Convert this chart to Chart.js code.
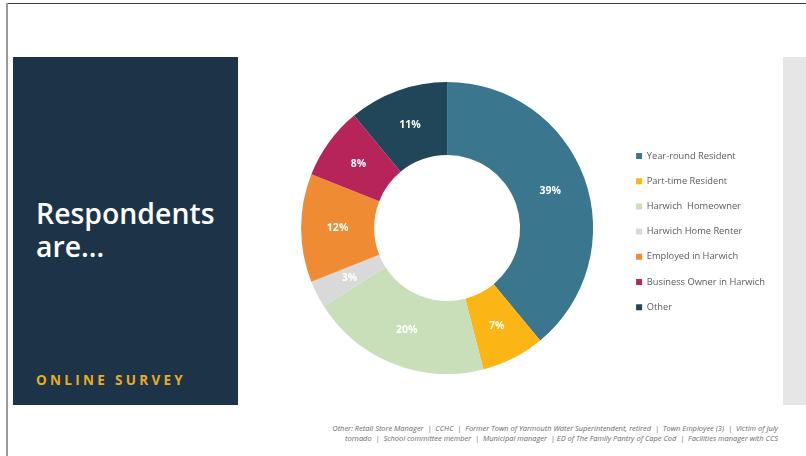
<!DOCTYPE html>
<html>
<head>
<meta charset="utf-8">
<script src="https://cdn.jsdelivr.net/npm/chart.js@4.4.1/dist/chart.umd.min.js"></script>
<style>
  html, body { margin:0; padding:0; background:#fff; }
  body { width:806px; height:456px; position:relative; overflow:hidden; font-family:"Open Sans", sans-serif; }
  .topline { position:absolute; left:6px; top:3px; width:800px; height:1px; background:#3a3a3a; }
  .leftline { position:absolute; left:6px; top:3px; width:2px; height:453px; background:#9a9a9a; }
  .panel { position:absolute; left:13px; top:57px; width:225px; height:348px; background:#1c3348; }
  .title { position:absolute; left:23px; top:140px; color:#fff; font-size:28.4px; font-weight:600; line-height:33px; }
  .survey { position:absolute; left:23px; top:314px; color:#e8ad1e; font-size:13.5px; font-weight:bold; letter-spacing:3.3px; }
  .gray { position:absolute; left:783px; top:57px; width:23px; height:348px; background:#e6e6e6; }
  .note { position:absolute; right:28px; top:424px; width:480px; text-align:right; font-style:italic; font-size:7.45px; line-height:9.5px; color:#6a6a6a; }
  #wrap { position:absolute; left:274px; top:82px; width:501px; height:292px; }
</style>
</head>
<body>
<div class="topline"></div>
<div class="leftline"></div>
<div class="panel">
  <div class="title">Respondents<br>are…</div>
  <div class="survey">ONLINE SURVEY</div>
</div>
<div class="gray"></div>
<div id="wrap"><canvas id="c"></canvas></div>
<div class="note">Other: Retail Store Manager &nbsp;| &nbsp;CCHC &nbsp;| &nbsp;Former Town of Yarmouth Water Superintendent, retired &nbsp;| &nbsp;Town Employee (3) &nbsp;| &nbsp;Victim of July<br>tornado &nbsp;| &nbsp;School committee member &nbsp;| &nbsp;Municipal manager &nbsp;| ED of The Family Pantry of Cape Cod &nbsp;| &nbsp;Facilities manager with CCS</div>
<script>
const categories = ["Year-round Resident", "Part-time Resident", "Harwich  Homeowner", "Harwich Home Renter", "Employed in Harwich", "Business Owner in Harwich", "Other"];
const percentages = [39, 7, 20, 3, 12, 8, 11];
const sliceColors = ["#3b768f", "#fbb616", "#c9dfb9", "#d9d9d9", "#ef8b33", "#b6245a", "#21465a"];

const labelPlugin = {
  id: 'sliceLabels',
  afterDatasetsDraw(chart) {
    const ctx = chart.ctx;
    const meta = chart.getDatasetMeta(0);
    ctx.save();
    ctx.font = 'bold 10.5px "Open Sans", sans-serif';
    ctx.fillStyle = '#ffffff';
    ctx.textAlign = 'center';
    ctx.textBaseline = 'middle';
    meta.data.forEach((arc, i) => {
      const p = arc.tooltipPosition();
      ctx.fillText(percentages[i] + '%', p.x, p.y);
    });
    ctx.restore();
  }
};

new Chart(document.getElementById('c'), {
  type: 'doughnut',
  data: {
    labels: categories,
    datasets: [{
      data: percentages,
      backgroundColor: sliceColors,
      borderWidth: 0
    }]
  },
  options: {
    responsive: true,
    maintainAspectRatio: false,
    animation: false,
    cutout: '50%',
    layout: { padding: 0 },
    plugins: {
      tooltip: { enabled: false },
      legend: {
        position: 'right',
        align: 'center',
        title: { display: true, text: ' ', font: { size: 1 }, padding: { top: 0, bottom: 6 } },
        labels: {
          boxWidth: 6,
          boxHeight: 6,
          padding: 15.9,
          color: '#595959',
          font: { family: '"Open Sans", sans-serif', size: 9.3 }
        }
      }
    }
  },
  plugins: [labelPlugin]
});
</script>
</body>
</html>
